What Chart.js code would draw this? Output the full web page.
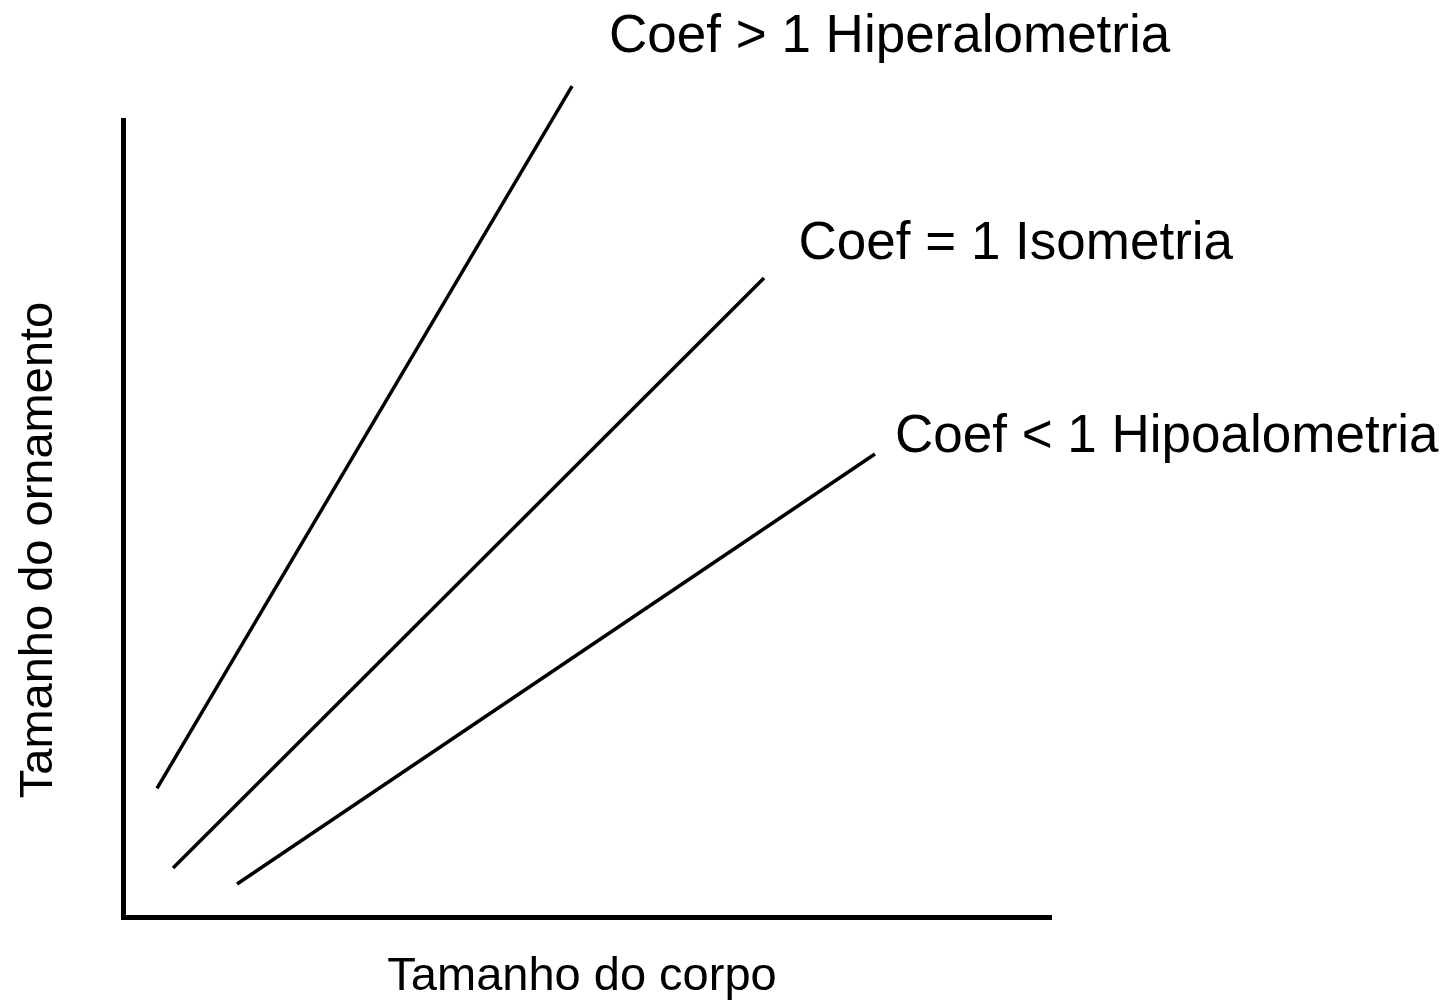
<!DOCTYPE html>
<html>
<head>
<meta charset="utf-8">
<script src="https://cdn.jsdelivr.net/npm/chart.js@4/dist/chart.umd.min.js"></script>
<style>
  html, body { margin: 0; padding: 0; background: #ffffff; }
  #wrap { width: 1448px; height: 1000px; }
</style>
</head>
<body>
<div id="wrap"><canvas id="c" width="1448" height="1000"></canvas></div>
<script>
// ---- data ----
const seriesNames = ['Coef > 1 Hiperalometria', 'Coef = 1 Isometria', 'Coef < 1 Hipoalometria'];
const hiperX = [3.61, 48.36];
const hiperY = [16.18, 104.26];
const isoX = [5.34, 69.06];
const isoY = [6.21, 80.19];
const hipoX = [12.24, 81.02];
const hipoY = [4.20, 58.12];
const xTitle = 'Tamanho do corpo';
const yTitle = 'Tamanho do ornamento';

function pts(xs, ys) { return xs.map((x, i) => ({ x: x, y: ys[i] })); }

const FONT = '"Liberation Sans", Arial, Helvetica, sans-serif';

const textPlugin = {
  id: 'diagramText',
  afterDatasetsDraw(chart, args, opts) {
    const ctx = chart.ctx;
    const xs = chart.scales.x, ys = chart.scales.y;
    ctx.save();
    ctx.fillStyle = '#000';
    ctx.textBaseline = 'alphabetic';
    ctx.textAlign = 'left';
    ctx.font = opts.labelSize + 'px ' + FONT;
    opts.labels.forEach((l, i) => {
      ctx.fillText(seriesNames[i], xs.getPixelForValue(l.x), ys.getPixelForValue(l.y));
    });
    ctx.font = opts.titleSize + 'px ' + FONT;
    ctx.textAlign = 'center';
    ctx.fillText(xTitle, opts.xTitle.x, opts.xTitle.y);
    ctx.translate(opts.yTitle.x, opts.yTitle.y);
    ctx.rotate(-Math.PI / 2);
    ctx.fillText(yTitle, 0, 0);
    ctx.restore();
  }
};

const lineStyle = { borderColor: '#000', borderWidth: 3.5, pointRadius: 0, showLine: true, fill: false, clip: false, borderCapStyle: 'butt' };

new Chart(document.getElementById('c'), {
  type: 'scatter',
  data: {
    datasets: [
      Object.assign({ label: seriesNames[0], data: pts(hiperX, hiperY) }, lineStyle),
      Object.assign({ label: seriesNames[1], data: pts(isoX, isoY) }, lineStyle),
      Object.assign({ label: seriesNames[2], data: pts(hipoX, hipoY) }, lineStyle)
    ]
  },
  options: {
    responsive: false,
    animation: false,
    layout: { padding: { top: 120, right: 397, left: 0, bottom: 0 } },
    plugins: {
      legend: { display: false },
      tooltip: { enabled: false },
      diagramText: {
        labelSize: 53,
        titleSize: 47,
        labels: [ { x: 52.35, y: 108.56 }, { x: 72.78, y: 82.53 }, { x: 83.18, y: 58.41 } ],
        xTitle: { x: 582, y: 990 },
        yTitle: { x: 52, y: 550 }
      }
    },
    scales: {
      x: {
        type: 'linear', min: 0, max: 100,
        grid: { display: false },
        ticks: { display: false },
        border: { display: true, color: '#000', width: 5 },
        afterFit(s) { s.height = 82.5; }
      },
      y: {
        type: 'linear', min: 0, max: 100,
        grid: { display: false },
        ticks: { display: false },
        border: { display: true, color: '#000', width: 5 },
        afterFit(s) { s.width = 123.5; }
      }
    }
  },
  plugins: [textPlugin]
});
</script>
</body>
</html>
